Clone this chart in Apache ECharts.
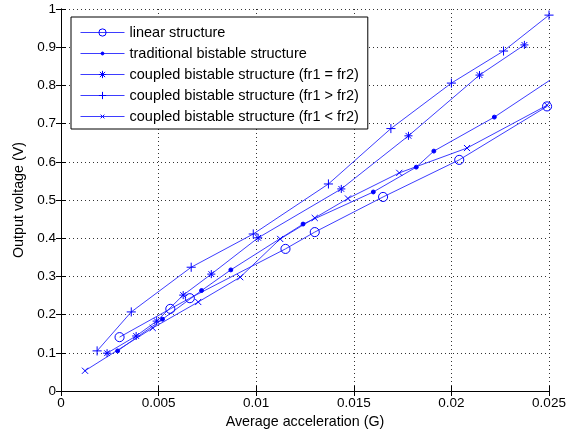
<!DOCTYPE html>
<html>
<head>
<meta charset="utf-8">
<script src="https://cdn.jsdelivr.net/npm/echarts@6/dist/echarts.min.js"></script>
<style>html,body{margin:0;padding:0;background:#fff;}#c{width:576px;height:439px;}</style>
</head>
<body>
<div id="c"></div>
<script>
const seriesNames = [
  'linear structure',
  'traditional bistable structure',
  'coupled bistable structure (fr1 = fr2)',
  'coupled bistable structure (fr1 > fr2)',
  'coupled bistable structure (fr1 < fr2)'
];
const linearData = [[0.0030,0.141],[0.0056,0.215],[0.0066,0.243],[0.0115,0.372],[0.0130,0.416],[0.0165,0.508],[0.0204,0.605],[0.0249,0.745]];
const traditionalData = [[0.0029,0.105],[0.0052,0.188],[0.0072,0.263],[0.0087,0.317],[0.0124,0.437],[0.0160,0.521],[0.0182,0.586],[0.0191,0.628],[0.0222,0.717],[0.0255,0.829]];
const equalData = [[0.00236,0.099],[0.00385,0.144],[0.0049,0.183],[0.00626,0.251],[0.0077,0.306],[0.0101,0.401],[0.01436,0.529],[0.0178,0.668],[0.02144,0.827],[0.02374,0.906]];
const greaterData = [[0.00185,0.105],[0.0036,0.207],[0.00667,0.324],[0.00985,0.411],[0.0137,0.542],[0.0169,0.687],[0.0200,0.806],[0.02267,0.890],[0.0250,0.984]];
const lessData = [[0.00123,0.053],[0.0047,0.165],[0.00703,0.233],[0.00918,0.298],[0.01123,0.398],[0.0130,0.453],[0.0147,0.504],[0.01733,0.571],[0.0208,0.636],[0.0249,0.748]];
const xTicks = [0, 0.005, 0.01, 0.015, 0.02, 0.025];
const yTicks = [0, 0.1, 0.2, 0.3, 0.4, 0.5, 0.6, 0.7, 0.8, 0.9, 1];

const blue = '#0000ff';
const lineBlue = 'rgba(40,40,255,0.9)';
const font = 'Liberation Sans, Arial, sans-serif';
// symbols padded inside a 10x10 box so that the legend icons stay small
const symCircle = 'path://M0,0 M10,10 M8.5,5 A3.5,3.5 0 1,1 1.5,5 A3.5,3.5 0 1,1 8.5,5 Z';
const symDot = 'path://M0,0 M10,10 M6.4,5 A1.4,1.4 0 1,1 3.6,5 A1.4,1.4 0 1,1 6.4,5 Z';
const symStar = 'path://M0,0 M10,10 M5,1.5 L5,8.5 M1.5,5 L8.5,5 M2.5,2.5 L7.5,7.5 M7.5,2.5 L2.5,7.5';
const symPlus = 'path://M0,0 M10,10 M5,1.5 L5,8.5 M1.5,5 L8.5,5';
const symX = 'path://M0,0 M10,10 M3.2,3.2 L6.8,6.8 M6.8,3.2 L3.2,6.8';

function mk(name, data, symbol, size, filled) {
  return {
    name, type: 'line', data, symbol, symbolSize: size, showSymbol: true,
    lineStyle: { color: lineBlue, width: 1 },
    itemStyle: { color: filled ? blue : 'rgba(0,0,0,0)', borderColor: blue, borderWidth: 1 },
    emphasis: { disabled: true },
    clip: true,
    z: 3
  };
}

const grid = { left: 61, right: 27, top: 9, bottom: 48 };
const axisLine = { show: true, lineStyle: { color: '#000', width: 1 } };
const splitLine = { show: true, lineStyle: { color: '#333', width: 1, type: [1, 3] } };

const chart = echarts.init(document.getElementById('c'), null, { renderer: 'canvas' });
chart.setOption({
  animation: false,
  backgroundColor: '#fff',
  textStyle: { fontFamily: font },
  grid,
  legend: {
    show: true,
    orient: 'vertical',
    left: 71, top: 17,
    padding: [8, 9, 5, 9],
    itemWidth: 44, itemHeight: 13, itemGap: 6,
    backgroundColor: '#fff',
    borderColor: '#000', borderWidth: 1, borderRadius: 0,
    itemStyle: { borderWidth: 1 },
    lineStyle: { width: 1 },
    textStyle: { fontFamily: font, fontSize: 14.5, color: '#000' },
    data: seriesNames
  },
  xAxis: [{
    type: 'value', min: 0, max: 0.025, interval: 0.005,
    position: 'bottom',
    name: 'Average acceleration (G)', nameLocation: 'middle', nameGap: 17,
    nameTextStyle: { fontFamily: font, fontSize: 14.3, color: '#000' },
    axisLine, axisTick: { show: true, inside: true, length: 5, lineStyle: { color: '#000' } },
    axisLabel: { color: '#000', fontFamily: font, fontSize: 13.5, margin: 5,
      formatter: v => { const t = xTicks.find(k => Math.abs(k - v) < 1e-9); return t === undefined ? '' : String(t); } },
    splitLine
  }, {
    type: 'value', min: 0, max: 0.025, interval: 0.005, position: 'top',
    axisLine, axisTick: { show: true, inside: true, length: 5, lineStyle: { color: '#000' } },
    axisLabel: { show: false }, splitLine: { show: false }
  }],
  yAxis: [{
    type: 'value', min: 0, max: 1, interval: 0.1,
    position: 'left',
    name: 'Output voltage (V)', nameLocation: 'middle', nameGap: 31,
    nameTextStyle: { fontFamily: font, fontSize: 14.3, color: '#000' },
    axisLine, axisTick: { show: true, inside: true, length: 5, lineStyle: { color: '#000' } },
    axisLabel: { color: '#000', fontFamily: font, fontSize: 13.5, margin: 5,
      formatter: v => { const t = yTicks.find(k => Math.abs(k - v) < 1e-9); return t === undefined ? '' : String(t); } },
    splitLine
  }, {
    type: 'value', min: 0, max: 1, interval: 0.1, position: 'right',
    axisLine, axisTick: { show: true, inside: true, length: 5, lineStyle: { color: '#000' } },
    axisLabel: { show: false }, splitLine: { show: false }
  }],
  series: [
    mk(seriesNames[0], linearData, symCircle, 13, false),
    mk(seriesNames[1], traditionalData, symDot, 14, true),
    mk(seriesNames[2], equalData, symStar, 11.5, true),
    mk(seriesNames[3], greaterData, symPlus, 13, true),
    mk(seriesNames[4], lessData, symX, 17, true)
  ]
});
</script>
</body>
</html>
